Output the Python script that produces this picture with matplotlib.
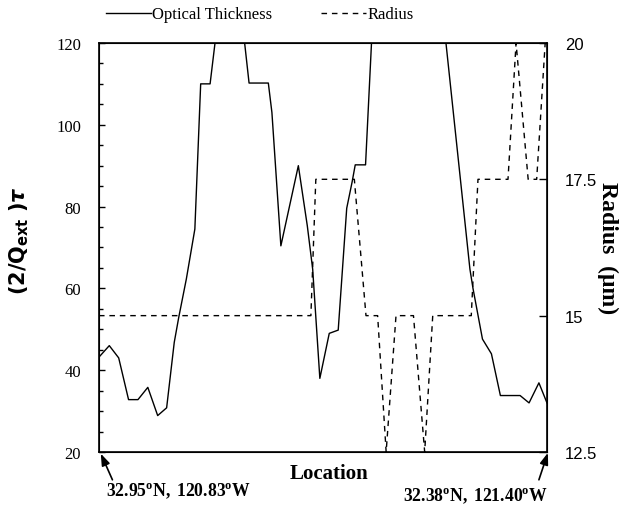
import numpy as np
import matplotlib
matplotlib.use("Agg")
import matplotlib.pyplot as plt

plt.rcParams['font.family'] = ['Liberation Serif', 'DejaVu Serif']
plt.rcParams['mathtext.fontset'] = 'custom'
plt.rcParams['mathtext.rm'] = 'Liberation Serif'
plt.rcParams['mathtext.bf'] = 'Liberation Serif:bold'
plt.rcParams['mathtext.it'] = 'Liberation Serif:italic'

# location along the track, 0 = 32.95N 120.83W, 100 = 32.38N 121.40W
loc_tau = [0, 2.3, 4.4, 6.6, 8.7, 10.9, 13.1, 15.1, 16.8, 17.8, 19.5, 21.4,
           22.7, 24.8, 27.0, 31.5, 33.5, 37.8, 38.6, 40.6, 44.5, 46.5, 47.7,
           49.3, 51.4, 53.4, 55.3, 56.5, 57.2, 59.5, 61.5, 76.0, 82.8, 83.5,
           85.6, 87.6, 89.6, 94.0, 96.0, 98.2, 100]
tau = [43.2, 46.0, 43.0, 32.8, 32.8, 35.8, 28.9, 30.8, 46.8, 52.9, 62.3, 74.5,
       110, 110, 130, 130, 110.2, 110.2, 103, 70.4, 90, 75.3, 64.7,
       38, 49, 49.8, 79.6, 86, 90.2, 90.2, 135, 135, 64.7, 59.9,
       47.6, 44, 33.8, 33.8, 32, 36.9, 32]

loc_r = [0, 47.3, 48.4, 57.0, 59.6, 62.2, 64.1, 66.3, 70.2, 72.7, 74.5, 83.1,
         84.6, 91.3, 93.1, 95.8, 97.7, 99.6]
radius = [15, 15, 17.5, 17.5, 15, 15, 12.5, 15, 15, 12.5, 15, 15,
          17.5, 17.5, 20, 17.5, 17.5, 20]

fig = plt.figure(figsize=(6.21, 5.10), dpi=100)
ax = fig.add_axes([0.1594, 0.1118, 0.7214, 0.802])
ax.plot(loc_tau, tau, color='black', lw=1.0, label='Optical Thickness')
ax.set_xlim(0, 100)
ax.set_ylim(20, 120)
ax.set_xticks([])
ax.set_yticks(np.arange(20, 121, 20))
ax.set_yticks(np.arange(20, 121, 5), minor=True)
ax.tick_params(axis='y', which='both', direction='in', labelsize=12, pad=13)
ax.tick_params(axis='y', which='major', length=4, width=1)
ax.tick_params(axis='y', which='minor', length=3, width=1)
for s in ax.spines.values():
    s.set_linewidth(1.2)
ax.set_ylabel(r'$\mathbf{(2/Q}_{\mathbf{ext}}\mathbf{\ )}\boldsymbol{\tau}$',
              fontsize=15, math_fontfamily='dejavusans')
ax.yaxis.set_label_coords(-0.152, 0.52)

ax2 = ax.twinx()
ax2.plot(loc_r, radius, color='black', lw=1.0, ls=(0, (4, 3.5)), label='Radius')
ax2.set_ylim(12.5, 20)
ax2.set_yticks([12.5, 15, 17.5, 20])
ax2.set_yticklabels(['12.5', '15', '17.5', '20'], family='Liberation Sans')
ax2.tick_params(axis='y', direction='in', length=6, width=1, labelsize=12, pad=13)
ax2.set_ylabel(u'Radius  (\u03bcm)', fontsize=17, fontweight='bold',
               rotation=270, labelpad=15)

h1, l1 = ax.get_legend_handles_labels()
h2, l2 = ax2.get_legend_handles_labels()
fig.legend(h1 + h2, l1 + l2, loc='upper center', bbox_to_anchor=(0.418, 1.015),
           ncol=2, frameon=False, fontsize=12, handlelength=2.7,
           handletextpad=0.1, columnspacing=2.9)

ax.text(0.513, -0.051, 'Location', transform=ax.transAxes, ha='center',
        va='center', fontsize=15, fontweight='bold')
ax.text(0.015, -0.093, r'$\mathbf{32.95^{o}N,\ 120.83^{o}W}$',
        transform=ax.transAxes, ha='left', va='center', fontsize=12.7)
ax.text(1.002, -0.105, r'$\mathbf{32.38^{o}N,\ 121.40^{o}W}$',
        transform=ax.transAxes, ha='right', va='center', fontsize=12.7)
arrow = dict(arrowstyle='-|>,head_length=0.7,head_width=0.25', color='black',
             lw=1.2, shrinkA=0, shrinkB=0)
ax.annotate('', xy=(0.004, -0.004), xytext=(0.03, -0.068),
            xycoords='axes fraction', textcoords='axes fraction',
            arrowprops=arrow, annotation_clip=False)
ax.annotate('', xy=(1.002, -0.002), xytext=(0.982, -0.068),
            xycoords='axes fraction', textcoords='axes fraction',
            arrowprops=arrow, annotation_clip=False)

fig.savefig('out.png', dpi=100)
